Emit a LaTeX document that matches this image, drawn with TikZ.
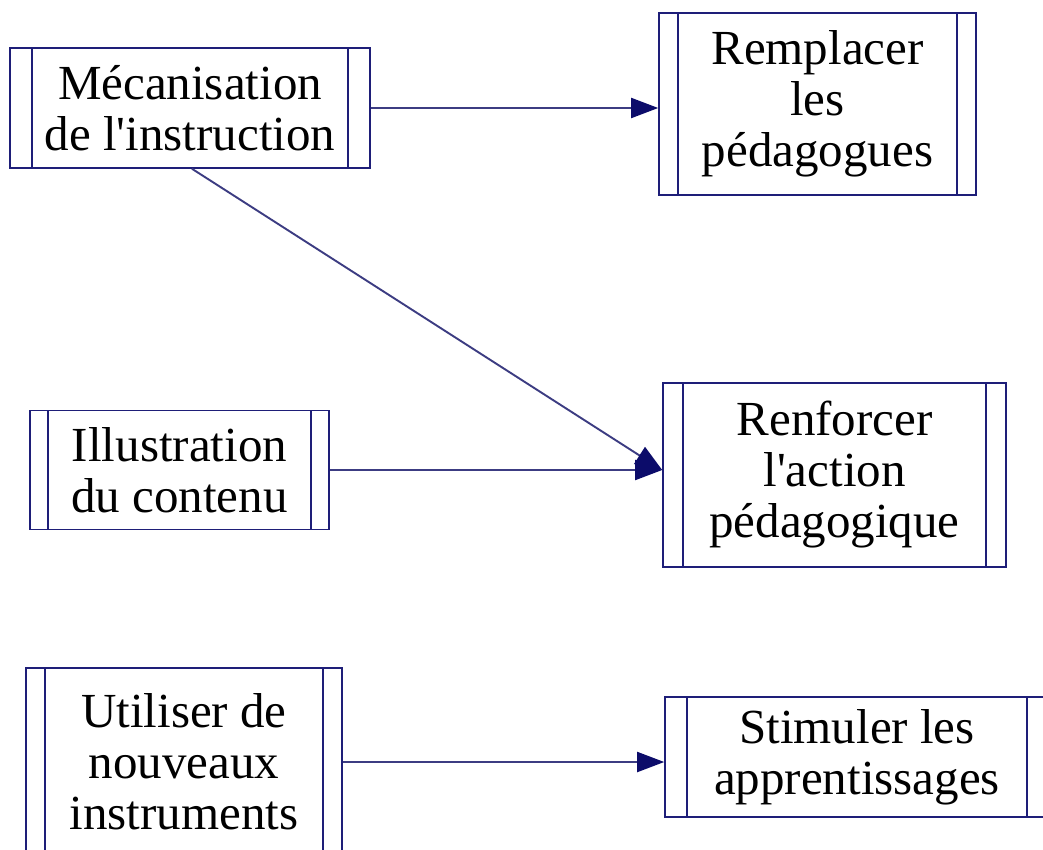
\documentclass[tikz,border=0pt]{standalone}
\usepackage{fontspec}
\setmainfont{Liberation Serif}
\usetikzlibrary{arrows.meta}
\definecolor{navyline}{HTML}{1E1E78}
\definecolor{navytip}{HTML}{0C0C6A}
\definecolor{connline}{HTML}{3C3C82}
\newcommand{\apos}{\textquotesingle}
\tikzset{
  dbox/.style={draw=navyline, line width=1.6pt, rectangle, inner sep=0pt,
    align=center, font=\fontsize{49}{51}\selectfont,
    path picture={
      \draw[navyline, line width=1.6pt]
        ([xshift=#1pt]path picture bounding box.north west) --
        ([xshift=#1pt]path picture bounding box.south west);
      \draw[navyline, line width=1.6pt]
        ([xshift=-#1pt]path picture bounding box.north east) --
        ([xshift=-#1pt]path picture bounding box.south east);
    }},
  dbox/.default=20,
  conn/.style={draw=connline, line width=1.9pt,
    -{Triangle[length=27pt, width=20pt, fill=navytip, color=navytip]}}
}
\begin{document}
\begin{tikzpicture}[x=1pt, y=-1pt]
\useasboundingbox (0,0) rectangle (1043,850);
\fill[white] (0,0) rectangle (1043,850);
\clip (0,0) rectangle (1043,850);

\node[dbox=22, minimum width=360pt, minimum height=120pt] (b1) at (190,108)
  {Mécanisation\\de l\apos instruction};
\node[dbox=19, minimum width=317pt, minimum height=182pt] (b2) at (817.5,104)
  {Remplacer\\les\\pédagogues};
\node[dbox=18, minimum width=299pt, minimum height=119pt] (b3) at (179.5,470)
  {Illustration\\du contenu};
\node[dbox=20, minimum width=343pt, minimum height=184pt] (b4) at (834.5,475)
  {Renforcer\\l\apos action\\pédagogique};
\node[dbox=19, minimum width=316pt, minimum height=188pt] (b5) at (184,762)
  {Utiliser de\\nouveaux\\instruments};
\node[dbox=22, minimum width=384pt, minimum height=120pt] (b6) at (857,757)
  {Stimuler les\\apprentissages};

\coordinate (t4) at (b4.west |- b3.east);
\draw[conn] (b1.east) -- (b1.east -| b2.west);
\draw[conn] ([xshift=2pt]b1.south) -- (t4);
\draw[conn] (b3.east) -- (t4);
\draw[conn] (b5.east) -- (b5.east -| b6.west);
\end{tikzpicture}
\end{document}
